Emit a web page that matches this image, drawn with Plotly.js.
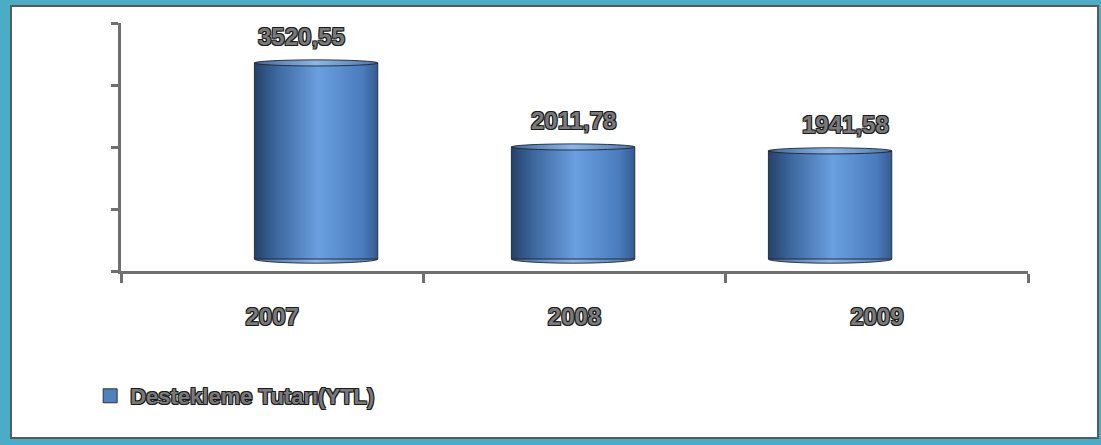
<!DOCTYPE html>
<html>
<head>
<meta charset="utf-8">
<script src="https://cdn.plot.ly/plotly-3.0.1.min.js"></script>
<style>
  html, body { margin: 0; padding: 0; width: 1101px; height: 445px; overflow: hidden; background: #4bacc6; }
  #frame { position: absolute; left: 10px; top: 5px; width: 1085px; height: 430px; border: 2px solid #5a5a5a; background: #ffffff; }
  #chart { position: absolute; left: 0; top: 0; width: 1101px; height: 445px; }
</style>
</head>
<body>
<div id="frame"></div>
<div id="chart"></div>
<script>
// ---- data ----
const years = ['2007', '2008', '2009'];
const values = [3520.55, 2011.78, 1941.58];
const seriesName = 'Destekleme Tutarı(YTL)';

// ---- styling ----
const axisColor = '#707070';
const outline = '-1px -1px 0 #1a1a1a, 1px -1px 0 #1a1a1a, -1px 1px 0 #1a1a1a, 1px 1px 0 #1a1a1a';
const labelFont = { family: 'Liberation Sans, Arial, sans-serif', size: 24, weight: 'bold', color: '#7a7a7a', shadow: outline };
const yMin = -215, yMax = 4237;
const barWidth = 0.48;
const capHalf = 55, baseHalf = 75;

const fmt = v => v.toFixed(2).replace('.', ',');

// invisible carrier so the category axis (x) exists and is drawn
const axisCarrier = {
  type: 'scatter', mode: 'markers', x: years, y: values,
  xaxis: 'x', yaxis: 'y', marker: { opacity: 0, size: 1 },
  showlegend: false, hoverinfo: 'skip'
};

const trace = {
  type: 'bar',
  x: years,
  y: values,
  xaxis: 'x2',
  yaxis: 'y',
  name: seriesName,
  width: barWidth,
  marker: { color: '#4f81bd', line: { color: 'rgba(30,30,30,0.85)', width: 1 } },
  showlegend: true,
  hoverinfo: 'skip'
};

const shapes = [];
years.forEach((yr, i) => {
  const v = values[i];
  shapes.push({ type: 'circle', xref: 'x2', yref: 'y', layer: 'below',
    x0: i - barWidth / 2, x1: i + barWidth / 2, y0: -baseHalf, y1: baseHalf,
    fillcolor: '#4a79b6', line: { color: 'rgba(30,30,30,0.85)', width: 1 } });
  shapes.push({ type: 'circle', xref: 'x2', yref: 'y', layer: 'above',
    x0: i - barWidth / 2, x1: i + barWidth / 2, y0: v - capHalf, y1: v + capHalf,
    fillcolor: '#5b8fd3', line: { color: 'rgba(30,30,30,0.85)', width: 1 } });
});

const annotations = years.map((yr, i) => ({
  xref: 'x2', yref: 'y', x: i, y: values[i],
  text: fmt(values[i]), showarrow: false,
  xanchor: 'center', yanchor: 'middle', yshift: 26, xshift: (i - 1) * 15,
  font: labelFont
}));

const layout = {
  width: 1101, height: 445,
  margin: { l: 121, r: 73, t: 23, b: 174 },
  paper_bgcolor: 'rgba(0,0,0,0)',
  plot_bgcolor: 'rgba(0,0,0,0)',
  showlegend: true,
  legend: {
    x: -0.034, y: -0.504, xanchor: 'left', yanchor: 'middle',
    orientation: 'h', bgcolor: 'rgba(0,0,0,0)',
    font: { family: 'Liberation Sans, Arial, sans-serif', size: 22, weight: 'bold', color: '#7a7a7a', shadow: outline }
  },
  xaxis: {
    type: 'category', categoryarray: years, range: [-0.5, 2.5],
    showline: true, linecolor: axisColor, linewidth: 3,
    ticks: 'outside', tickson: 'boundaries', ticklen: 9, tickwidth: 3, tickcolor: axisColor,
    showgrid: false, zeroline: false, fixedrange: true,
    tickfont: labelFont, ticklabelstandoff: 22
  },
  xaxis2: {
    type: 'category', categoryarray: years, range: [-0.759, 2.770],
    overlaying: 'x', visible: false, fixedrange: true
  },
  yaxis: {
    range: [yMin, yMax], tickmode: 'linear', tick0: yMin, dtick: (yMax - yMin) / 4,
    showline: true, linecolor: axisColor, linewidth: 3,
    ticks: 'outside', ticklen: 7, tickwidth: 3, tickcolor: axisColor,
    showticklabels: false, showgrid: false, zeroline: false, fixedrange: true
  },
  shapes: shapes,
  annotations: annotations
};

Plotly.newPlot('chart', [axisCarrier, trace], layout, { displayModeBar: false, staticPlot: true }).then(gd => {
  const svg = gd.querySelector('svg.main-svg');
  let defs = svg.querySelector('defs');
  const NS = 'http://www.w3.org/2000/svg';
  function grad(id, stops) {
    const g = document.createElementNS(NS, 'linearGradient');
    g.setAttribute('id', id);
    g.setAttribute('x1', '0'); g.setAttribute('x2', '1');
    g.setAttribute('y1', '0'); g.setAttribute('y2', '0');
    stops.forEach(s => {
      const st = document.createElementNS(NS, 'stop');
      st.setAttribute('offset', s[0]);
      st.setAttribute('stop-color', s[1]);
      g.appendChild(st);
    });
    defs.appendChild(g);
  }
  grad('cylGrad', [[0, '#24416a'], [0.18, '#3d679e'], [0.52, '#6a9fe0'], [0.62, '#6196d6'], [0.88, '#4a7bbc'], [1, '#355b90']]);
  grad('capGrad', [[0, '#3f6aa3'], [0.5, '#8ab6ea'], [1, '#4776b3']]);
  gd.querySelectorAll('.barlayer .bars path').forEach(p => { p.style.fill = 'url(#cylGrad)'; });
  gd.querySelectorAll('.shapelayer path').forEach(p => { p.style.fill = 'url(#capGrad)'; });
  gd.querySelectorAll('.legendpoints path').forEach(p => { p.setAttribute('d', 'M7,7H-7V-7H7Z'); });
});
</script>
</body>
</html>
